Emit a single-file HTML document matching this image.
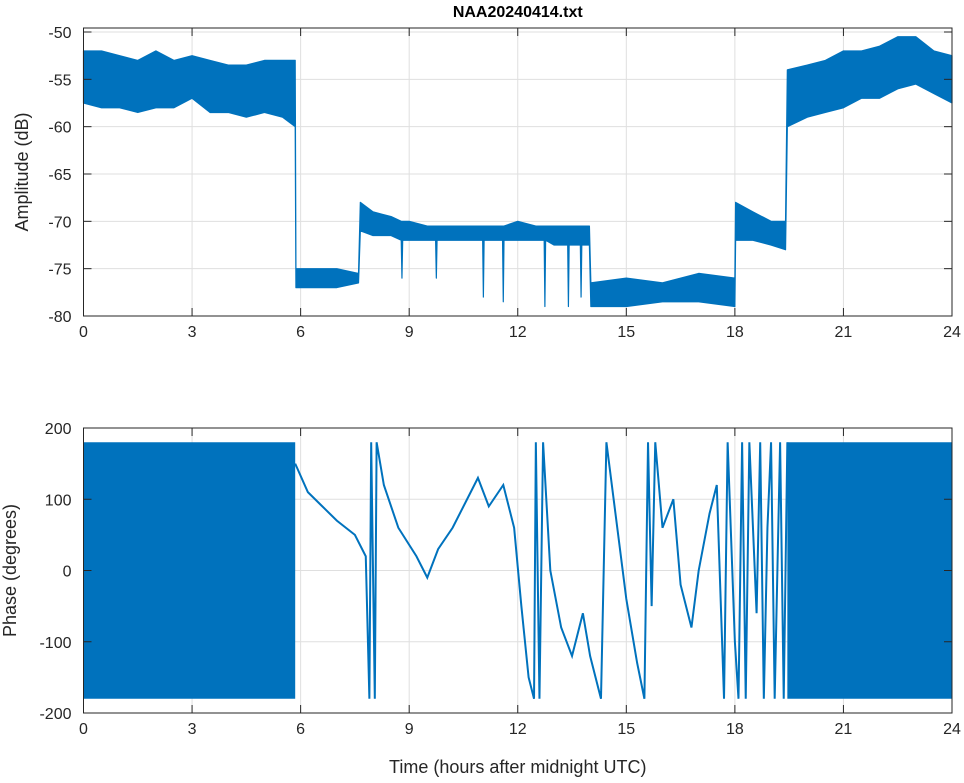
<!DOCTYPE html>
<html><head><meta charset="utf-8"><style>
body{margin:0;background:#fff;}
svg{font-family:"Liberation Sans",Arial,sans-serif;}
</style></head><body>
<svg id="c" width="964" height="778"></svg>
<script>
const ticksX=[0,3,6,9,12,15,18,21,24];
const ampTicks=[-50,-55,-60,-65,-70,-75,-80];
const phTicks=[200,100,0,-100,-200];
// amplitude envelope (time, upper, lower)
const ampT=[0,0.5,1,1.5,2,2.5,3,3.5,4,4.5,5,5.5,5.85, 5.87,6.5,7,7.6, 7.65,8,8.5,8.78,8.8,8.82,9,9.5,9.73,9.75,9.77,10,10.5,11.03,11.05,11.07,11.5,11.58,11.6,11.62,12,12.5,12.73,12.75,12.77,13,13.38,13.4,13.42,13.73,13.75,13.77,13.98, 14.02,15,16,17,18, 18.02,18.5,19,19.4, 19.45,20,20.5,21,21.5,22,22.5,23,23.5,24];
const ampHi=[-52,-52,-52.5,-53,-52,-53,-52.5,-53,-53.5,-53.5,-53,-53,-53, -75,-75,-75,-75.5, -68,-69,-69.5,-70,-70,-70,-70,-70.5,-70.5,-70.5,-70.5,-70.5,-70.5,-70.5,-70.5,-70.5,-70.5,-70.5,-70.5,-70.5,-70,-70.5,-70.5,-70.5,-70.5,-70.5,-70.5,-70.5,-70.5,-70.5,-70.5,-70.5,-70.5, -76.5,-76,-76.5,-75.5,-76, -68,-69,-70,-70, -54,-53.5,-53,-52,-52,-51.5,-50.5,-50.5,-52,-52.5];
const ampLo=[-57.5,-58,-58,-58.5,-58,-58,-57,-58.5,-58.5,-59,-58.5,-59,-60, -77,-77,-77,-76.5, -71,-71.5,-71.5,-72,-76,-72,-72,-72,-72,-76,-72,-72,-72,-72,-78,-72,-72,-72,-78.5,-72,-72,-72,-72,-79,-72,-72.5,-72.5,-79,-72.5,-72.5,-78,-72.5,-72.5, -79,-79,-78.5,-78.5,-79, -72,-72,-72.5,-73, -60,-59,-58.5,-58,-57,-57,-56,-55.5,-56.5,-57.5];
// phase: noisy wrapped segments and trace
const wrapSegs=[[0,5.85],[19.45,24]];
const phT=[5.85,6.2,6.6,7.0,7.5,7.8,7.9,7.95,8.05,8.1,8.3,8.7,9.2,9.5,9.8,10.2,10.6,10.9,11.2,11.6,11.9,12.1,12.3,12.45,12.5,12.6,12.7,12.9,13.2,13.5,13.8,14.0,14.3,14.45,14.7,15.0,15.3,15.5,15.6,15.7,15.8,16.0,16.3,16.5,16.8,17.0,17.3,17.5,17.7,17.8,18.0,18.1,18.2,18.3,18.4,18.6,18.7,18.8,18.9,19.0,19.1,19.25,19.35,19.45];
const phV=[150,110,90,70,50,20,-180,180,-180,180,120,60,20,-10,30,60,100,130,90,120,60,-50,-150,-180,180,-180,180,0,-80,-120,-60,-120,-180,180,80,-40,-130,-180,180,-50,180,60,100,-20,-80,0,80,120,-180,180,-100,-180,180,-180,180,-60,180,-180,60,180,-180,180,-180,180];

const NS="http://www.w3.org/2000/svg";
const svg=document.getElementById('c');
function mk(tag,attrs,parent){const e=document.createElementNS(NS,tag);for(const k in attrs)e.setAttribute(k,attrs[k]);(parent||svg).appendChild(e);return e;}
const L=83.5,R=952;
const xs=t=>L+(t/24)*(R-L);
const yA=v=>32+(-50-v)/30*(316-32);
const yP=v=>570.5-(v)/400*(713-428);

function axes(top,bot,yticks,yf,name){
  const g=mk('g',{});
  
  
  ticksX.forEach(t=>{mk('line',{x1:xs(t),x2:xs(t),y1:top,y2:bot,stroke:'#dfdfdf','stroke-width':1},g);});
  yticks.forEach(v=>{mk('line',{x1:L,x2:R,y1:yf(v),y2:yf(v),stroke:'#dfdfdf','stroke-width':1},g);});
  return g;
}
function frame(top,bot,yticks,yf,name,yl){
  const g=mk('g',{});
  
  
  mk('rect',{x:L,y:top,width:R-L,height:bot-top,fill:'none',stroke:'#262626','stroke-width':1},g);
  ticksX.forEach(t=>{
    mk('line',{x1:xs(t),x2:xs(t),y1:bot,y2:bot-8,stroke:'#262626'},g);
    mk('line',{x1:xs(t),x2:xs(t),y1:top,y2:top+8,stroke:'#262626'},g);
    const tx=mk('text',{x:xs(t),y:bot+21,'text-anchor':'middle','font-size':16,fill:'#262626'},g);tx.textContent=t;
    
    
  });
  yticks.forEach(v=>{
    mk('line',{x1:L,x2:L+8,y1:yf(v),y2:yf(v),stroke:'#262626'},g);
    mk('line',{x1:R,x2:R-8,y1:yf(v),y2:yf(v),stroke:'#262626'},g);
    const tx=mk('text',{x:L-12,y:yf(v)+6,'text-anchor':'end','font-size':16,fill:'#262626'},g);tx.textContent=v;
    
    
  });
  const cy=(top+bot)/2, lx=name==='amplitude'?28:16;
  const yt=mk('text',{x:lx,y:cy,'text-anchor':'middle','font-size':18,fill:'#262626',transform:`rotate(-90 ${lx} ${cy})`},g);
  yt.textContent=yl;
  
  
}
// top plot
axes(28,316,ampTicks,yA,'amplitude');
let pts=[];
for(let i=0;i<ampT.length;i++)pts.push(xs(ampT[i])+','+yA(ampHi[i]));
for(let i=ampT.length-1;i>=0;i--)pts.push(xs(ampT[i])+','+yA(ampLo[i]));
const ap=mk('polygon',{points:pts.join(' '),fill:'#0072bd',stroke:'#0072bd','stroke-width':1.2,'stroke-linejoin':'round'});


frame(28,316,ampTicks,yA,'amplitude','Amplitude (dB)');
const title=mk('text',{x:(L+R)/2,y:17,'text-anchor':'middle','font-size':16,'font-weight':'bold',fill:'#000'});
title.textContent='NAA20240414.txt';


// bottom plot
axes(428,713,phTicks,yP,'phase');
wrapSegs.forEach(s=>{
  const r=mk('rect',{x:xs(s[0]),y:yP(180),width:xs(s[1])-xs(s[0]),height:yP(-180)-yP(180),fill:'#0072bd'});
  
  
});
const pl=mk('polyline',{points:phT.map((t,i)=>xs(t)+','+yP(phV[i])).join(' '),fill:'none',stroke:'#0072bd','stroke-width':2});


frame(428,713,phTicks,yP,'phase','Phase (degrees)');
const xl=mk('text',{x:(L+R)/2,y:773,'text-anchor':'middle','font-size':18,fill:'#262626'});
xl.textContent='Time (hours after midnight UTC)';


</script>
</body></html>
